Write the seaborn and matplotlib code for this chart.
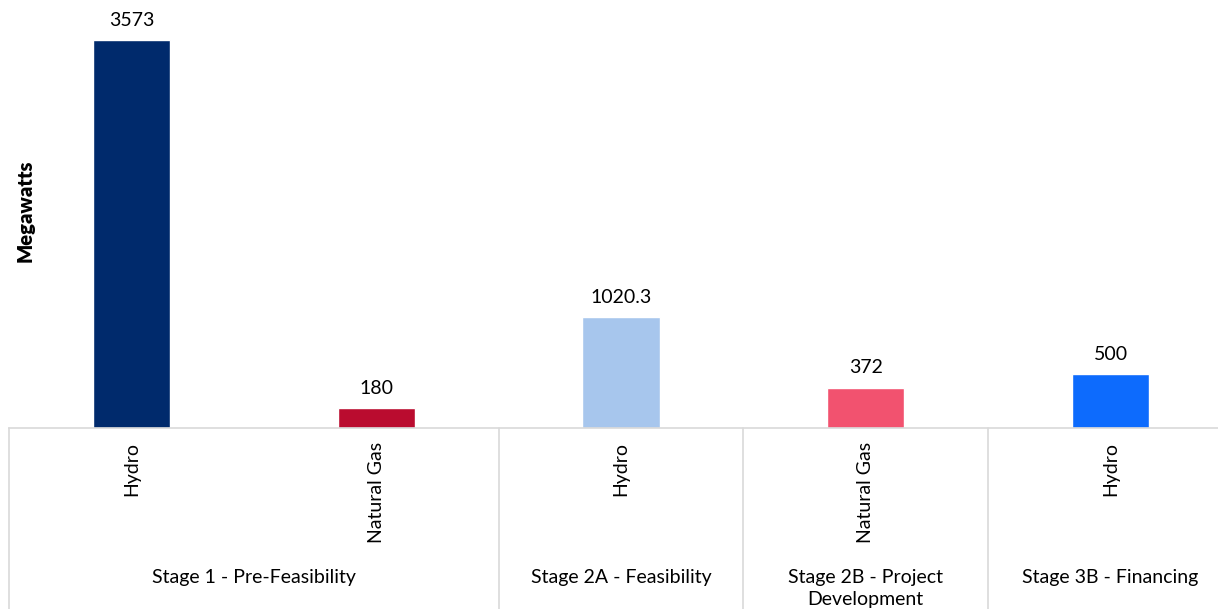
import matplotlib
matplotlib.use("Agg")
import matplotlib.pyplot as plt
import matplotlib.transforms as mtransforms
import pandas as pd
import seaborn as sns

# Pipeline capacity by development stage and technology
stages = ["Stage 1 - Pre-Feasibility", "Stage 1 - Pre-Feasibility",
          "Stage 2A - Feasibility", "Stage 2B - Project\nDevelopment",
          "Stage 3B - Financing"]
technologies = ["Hydro", "Natural Gas", "Hydro", "Natural Gas", "Hydro"]
megawatts = [3573, 180, 1020.3, 372, 500]
value_labels = ["3573", "180", "1020.3", "372", "500"]
bar_colors = ["#002A6C", "#BA0C2F", "#A7C6ED", "#F2526F", "#0D6BFD"]

df = pd.DataFrame({"stage": stages, "tech": technologies, "mw": megawatts})
df["key"] = [f"{s}|{t}" for s, t in zip(stages, technologies)]

sns.set_theme(style="white")
plt.rcParams["font.family"] = ["Lato", "DejaVu Sans"]

W, H, DPI = 1218, 609, 100
fig = plt.figure(figsize=(W / DPI, H / DPI), dpi=DPI)
# plot area runs slightly past the right edge of the canvas
ax = fig.add_axes([9 / W, 1 - 428 / H, 1224 / W, 428 / H])

sns.barplot(data=df, x="key", y="mw", hue="key", palette=bar_colors,
            legend=False, width=0.315, saturation=1, ax=ax)

ax.set_xlim(-0.5, len(df) - 0.5)
ax.set_ylim(0, 3573 * 428 / 388)

for cont, lab in zip(ax.containers, value_labels):
    ax.bar_label(cont, labels=[lab], padding=8, fontsize=14, color="#000000")

# Technology labels below each bar
ax.set_xticks(range(len(df)))
ax.set_xticklabels(technologies, rotation=90, fontsize=14, color="#000000")
ax.tick_params(axis="x", length=0, pad=10)
ax.set_yticks([])
ax.set_xlabel("")
ax.set_ylabel("")

for side in ["top", "left", "right"]:
    ax.spines[side].set_visible(False)
ax.spines["bottom"].set_color("#D9D9D9")
ax.spines["bottom"].set_linewidth(1.2)

# Stage grouping: separators and group labels
trans = mtransforms.blended_transform_factory(ax.transData, fig.transFigure)
base_y = 1 - 428 / H
for xb in [-0.5, 1.5, 2.5, 3.5]:
    ax.plot([xb, xb], [base_y, 0], transform=trans, color="#D9D9D9",
            lw=1.2, clip_on=False)

groups = {}
for i, s in enumerate(stages):
    groups.setdefault(s, []).append(i)
for s, idx in groups.items():
    cx = sum(idx) / len(idx)
    ax.text(cx, 1 - 569 / H, s, transform=trans, ha="center", va="top",
            fontsize=14, color="#000000", linespacing=1.38)

fig.text(25 / W, 1 - 211 / H, "Megawatts", rotation=90, ha="center",
         va="center", fontsize=14.5, fontweight="heavy", color="#000000")

fig.savefig("out.png", dpi=DPI, facecolor="white")
